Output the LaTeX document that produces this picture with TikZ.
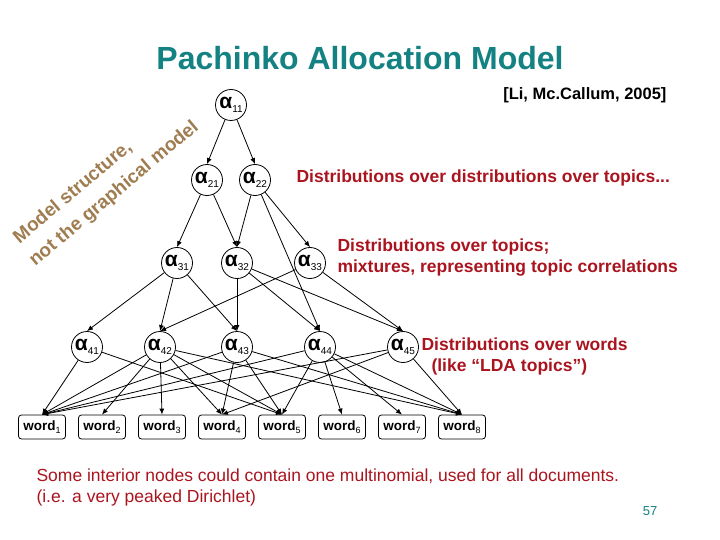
\documentclass[tikz,border=0pt]{standalone}
\usepackage{fontspec}
\setmainfont{Liberation Sans}
\usetikzlibrary{arrows.meta}
\definecolor{teal1}{RGB}{20,130,130}
\definecolor{dred}{RGB}{170,20,30}
\definecolor{brn}{RGB}{160,125,80}
\begin{document}
\begin{tikzpicture}[x=1pt,y=-1pt,
  al/.style={circle,draw,thick,minimum size=31pt,inner sep=0pt,font=\fontsize{21}{21}\selectfont\bfseries},
  wd/.style={draw,thick,rounded corners=3pt,minimum width=47pt,minimum height=24pt,inner sep=1pt,font=\fontsize{13.5}{13.5}\selectfont\bfseries},
  ed/.style={-{Latex[length=6pt,width=5pt]},thick},
  ms/.style={text=brn,font=\fontsize{19}{19}\selectfont\bfseries,rotate=40,anchor=west,inner sep=0pt},
  rt/.style={text=dred,font=\fontsize{17.5}{21}\selectfont\bfseries,align=left}]
\useasboundingbox (0,0) rectangle (720,540);
\newcommand{\al}[1]{α\raisebox{-0.35ex}{\fontsize{10}{10}\selectfont\mdseries #1}}
\node[text=teal1,font=\fontsize{32}{32}\selectfont\bfseries] (t) at (360,58) {Pachinko Allocation Model};
\node[font=\fontsize{16.5}{16.5}\selectfont\bfseries,anchor=east] (ref) at (670,95) {[Li, Mc.Callum, 2005]};
\node[ms] (ms1) at (16,240) {Model structure,};
\node[ms] (ms2) at (32,263) {not the graphical model};
\node[al] (a11) at (231,105) {\al{11}};
\node[al] (a21) at (207,180) {\al{21}};
\node[al] (a22) at (255,180) {\al{22}};
\node[al] (a31) at (177,263) {\al{31}};
\node[al] (a32) at (237,263) {\al{32}};
\node[al] (a33) at (310,263) {\al{33}};
\node[al] (a41) at (87,347) {\al{41}};
\node[al] (a42) at (160,347) {\al{42}};
\node[al] (a43) at (237,347) {\al{43}};
\node[al] (a44) at (320,347) {\al{44}};
\node[al] (a45) at (403,347) {\al{45}};
\foreach \i/\x in {1/42,2/102,3/162,4/222,5/282,6/342,7/402,8/462}
  \node[wd] (w\i) at (\x,427) {word\raisebox{-0.5ex}{\fontsize{9}{9}\selectfont\mdseries\i}};
\foreach \a/\b in {a11/a21,a11/a22,a21/a31,a21/a32,a22/a32,a22/a33,a22/a44,
  a31/a41,a31/a42,a31/a43,a32/a43,a32/a44,a32/a45,a33/a42,a33/a45,
  a41/w1,a41/w5,a42/w1,a42/w2,a42/w3,a42/w4,a42/w5,a42/w8,
  a43/w1,a43/w4,a43/w5,a43/w8,a44/w1,a44/w5,a44/w6,a44/w7,a44/w8,
  a45/w1,a45/w4,a45/w8}
  \draw[ed] (\a) -- (\b.north);
\node[rt,anchor=west] (d1) at (293,178) {Distributions over distributions over topics...};
\node[rt,anchor=west] (d2) at (334,258) {Distributions over topics;\\mixtures, representing topic correlations};
\node[rt,anchor=west] (d3) at (418,356) {Distributions over words\\\hspace*{10pt}(like ``LDA topics'')};
\node[text=dred,font=\fontsize{17.5}{21}\selectfont,align=left,anchor=north west] (n) at (33,465) {Some interior nodes could contain one multinomial, used for all documents.\\(i.e. a very peaked Dirichlet)};
\node[text=teal1,font=\fontsize{13}{13}\selectfont] (pg) at (650,511) {57};
\end{tikzpicture}
\end{document}
